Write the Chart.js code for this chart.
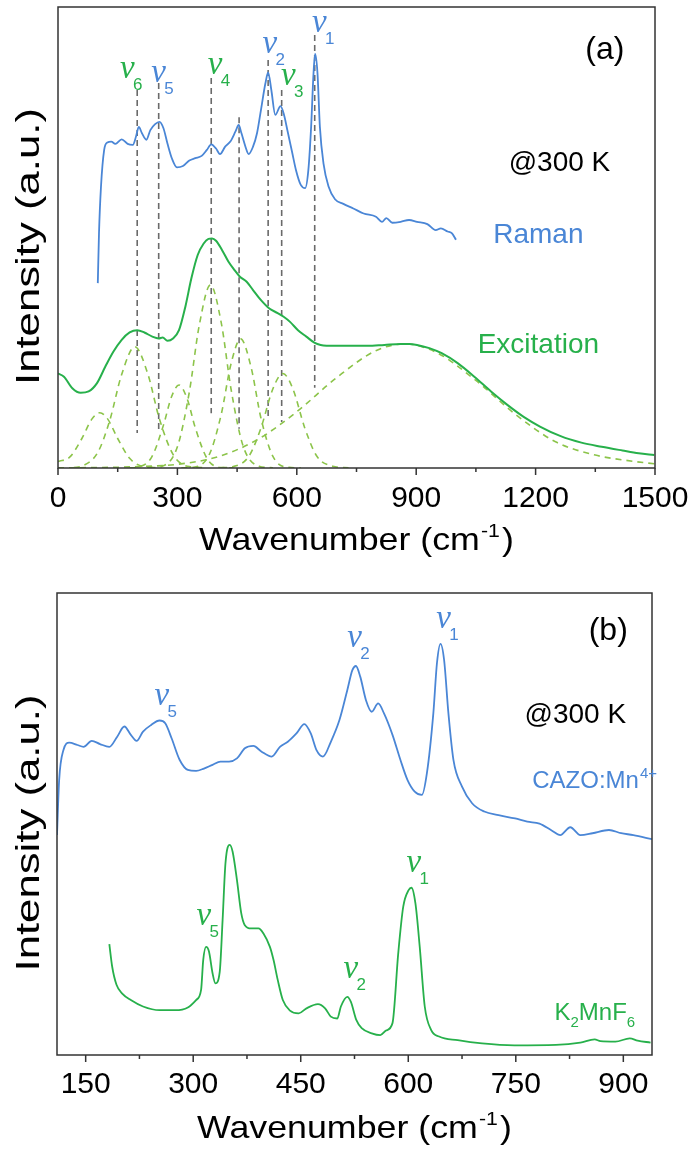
<!DOCTYPE html>
<html><head><meta charset="utf-8">
<script src="https://cdn.jsdelivr.net/npm/chart.js@4.4.0/dist/chart.umd.min.js"></script>
<style>
html,body{margin:0;padding:0;background:#fff;}
#wrap{position:relative;width:693px;height:1158px;overflow:hidden;}
.pane{position:absolute;left:0;width:693px;}
#pa{top:0;height:575px;}
#pb{top:575px;height:583px;}
</style></head><body>
<div id="wrap">
<div class="pane" id="pa"><canvas id="chartA"></canvas></div>
<div class="pane" id="pb"><canvas id="chartB"></canvas></div>
</div>
<script>
// ---------- Panel (a) data ----------
const ramanWn = [100,103,108,116,124,134,144,160,175,188,196,203,211,222,232,244,255,265,275,286,299,314,330,345,361,374,385,397,407,420,433,446,454,461,471,479,490,500,510,521,528,536,546,559,567,577,588,598,610,621,629,636,642,646,652,658,667,680,696,717,742,768,799,814,825,840,861,882,902,928,949,962,979,990,1000];
const ramanInt = [40.1,50.9,61,69,70.6,70.8,70.3,71.3,70.3,70.1,71.9,74,72.6,71.2,73.3,74.6,75.1,73.7,70.4,67.2,65.2,65.5,66.7,67.2,67.7,69,70.2,69.3,68.1,69.7,70.8,73,74.4,72.6,69.7,68.1,69.7,72.6,77.7,83.4,85.8,82,76.6,78.5,76.9,73,68.6,64.6,61.4,60.7,64.6,74,85.6,89.8,85.6,74,66.1,61,58.3,57.3,56.3,55.2,54.5,53.4,54.2,53.2,53.4,53.8,53.4,52.9,51.6,52,51.3,50.9,49.5];

const excWn = [0,15,36,57,77,98,119,139,160,180,199,217,237,253,263,275,289,304,320,335,351,366,378,387,397,412,428,443,457,474,490,510,531,552,567,583,603,624,644,660,696,737,778,820,861,882,902,933,964,1005,1046,1088,1129,1170,1211,1263,1315,1366,1418,1459,1498];
const excInt = [20.5,19.8,17.3,16.3,16.6,18.4,22,25.2,27.8,29.4,29.9,29.4,28.5,28.1,28.3,27.6,28.1,29.9,35,41.1,46.2,48.7,49.7,49.8,49.3,47.3,44.8,43,41.5,40.4,38.6,36.4,34.6,33.6,32.8,31.7,29.9,28.5,27.2,26.7,26.5,26.5,26.5,26.7,26.9,26.9,26.7,26,24.9,22.7,19.8,16.6,13.7,11.1,9,6.9,5.5,4.6,3.8,3.2,2.8];

// fitted components (dashed)
const fit1Wn = [0,30,60,85,105,125,150,180,210,240];
const fit1Int = [1.4,2.4,6.4,10.6,12,10.6,6.4,2.1,0.4,0.1];
const fit2Wn = [40,60,100,130,160,193,225,255,290,330,370];
const fit2Int = [0.1,0.4,3.4,10.3,20.3,26.3,20.6,10.6,2.8,0.3,0.1];
const fit3Wn = [180,200,235,265,285,304,325,345,375,410,440];
const fit3Int = [0.05,0.2,2.3,9.3,15.4,18,14.9,8.7,2,0.1,0.05];
const fit4Wn = [230,260,300,330,355,383,410,435,465,505,540];
const fit4Int = [0.05,0.35,4.6,16.5,31,39.7,31.6,17,4.8,0.4,0.05];
const fit5Wn = [310,340,380,410,435,459,485,510,540,580,610];
const fit5Int = [0.05,0.16,2.9,11.6,22.7,28,21.9,10.8,2.5,0.13,0.05];
const fit6Wn = [410,440,480,510,540,565,590,620,650,690,730];
const fit6Int = [0.05,0.3,2.6,8.7,17.2,20.5,17.2,8.7,2.6,0.4,0.05];
const fit7Wn = [0,100,200,300,400,500,600,700,800,871,950,1050,1150,1250,1350,1450,1500];
const fit7Int = [0.05,0.1,0.3,0.8,2.4,6.1,12.2,19.6,25.5,26.9,25.1,19,11.6,5.7,2.8,1.4,0.9];

// vibrational mode markers (grey dashed verticals)
const modeWn = [199,253,385,455,528,562,645];
const modeTop = [82,83.5,84.6,76.1,88.5,82,93.9];
const modeBottom = [7.6,8.2,11.9,8.5,11.1,10,17.4];

const ticksA = [0,300,600,900,1200,1500];
const minorA = [150,450,750,1050,1350];

// ---------- Panel (b) data ----------
const cazoWn = [110,113,119,127,138.5,147,158.5,170,183,194,204,213,221,230,241,253,261,270,281,292.5,304,315,327,338,350,361,372,384,395,409.5,421,432,444,455,464,472,481,492,504,515,522,527,533,541,549,558,566,578,589,599,609,619,626,635,640,645,650,656,663,675,689,706,726,749,766,783,800,812,826,840,857,880,897,914,940];
const cazoInt = [47.6,59.5,66,67.6,67.1,66.7,68,67.3,66.7,68.9,71.1,69.3,68,70,71.4,72.4,71.8,68.5,63.9,61.7,61.5,62,62.8,63.5,63.5,64.2,66.4,66.9,65.7,64.6,66.7,67.8,69.6,71.6,69.6,66,64.6,67.8,72.5,79,83.3,84.2,81.9,76.8,74.3,76.1,74,69.3,63.9,59.5,57,56.3,61,74,84.8,89,85.5,74,63.9,58.1,54.5,52.7,51.9,51.2,50.5,50.1,48.6,47.6,49.3,47.6,48,48.7,48,47.6,46.7];

const kWn = [183,187,193,201,213,230,253,275,292.5,304,311,314,318,322,327,331,337,341,345,351,355,361,367,372,381,391,398,407,412,418,425,435,447,458,474,484,492,501,506,515,520,527.5,535,549,561,569,578,586,593,600.5,604.5,610,616,623,632,643,669,703,748,806,840,860,868,889,909,920,938];
const kInt = [24,19.1,15.2,13.3,11.9,10.5,9.7,9.7,10.3,11.9,14.1,20.6,23.4,22.4,17.7,15.5,18,29.2,41.5,45.5,44,37.9,30.7,28.1,27.4,27.4,26.3,23.4,20.6,16.2,11.9,9.6,9,10.1,11,10.1,8.3,7.9,10.5,12.6,11.5,7.6,5.8,4.7,4.3,5.3,6.9,22,32.1,35.7,36.2,32.8,23.4,10.5,5.4,4,3.2,2.5,2.1,2.2,2.7,3.4,3,2.9,3.6,3.1,2.7];

const ticksB = [150,300,450,600,750,900];
const minorB = [225,375,525,675,825];

// ---------- styles ----------
const BLUE = '#4a86d6';
const GREEN = '#27b04b';
const LGREEN = '#8cc44a';
const GREY = '#6a6a6a';
const SANS = '"Liberation Sans", Arial, sans-serif';
const SERIF = '"Liberation Serif", "Times New Roman", serif';

const pts = (xs, ys) => xs.map((x, i) => ({x: x, y: ys[i]}));

function lineDs(xs, ys, color, width, dash) {
  return {data: pts(xs, ys), borderColor: color, borderWidth: width, borderDash: dash || [],
    pointRadius: 0, fill: false, cubicInterpolationMode: 'monotone', tension: 0.3};
}

// ---------- decoration plugin ----------
const decor = {
  id: 'decor',
  afterDraw(chart, args, o) {
    const {ctx, chartArea: a, scales: {x, y}} = chart;
    ctx.save();
    // frame
    ctx.strokeStyle = '#333';
    ctx.lineWidth = 1.5;
    ctx.strokeRect(a.left, a.top, a.right - a.left, a.bottom - a.top);
    // ticks
    ctx.beginPath();
    o.major.forEach(v => { const px = x.getPixelForValue(v); ctx.moveTo(px, a.bottom); ctx.lineTo(px, a.bottom + 7); });
    o.minor.forEach(v => { const px = x.getPixelForValue(v); ctx.moveTo(px, a.bottom); ctx.lineTo(px, a.bottom + 4); });
    ctx.stroke();
    // y title (stretched to reference length)
    ctx.fillStyle = '#000';
    ctx.font = '33px ' + SANS;
    ctx.textAlign = 'center';
    ctx.textBaseline = 'middle';
    const yt = 'Intensity (a.u.)';
    const yw = ctx.measureText(yt).width;
    ctx.save();
    ctx.translate(30, (a.top + a.bottom) / 2 + 9);
    ctx.rotate(-Math.PI / 2);
    ctx.scale(o.yTitleLen / yw, 1);
    ctx.fillText(yt, 0, 0);
    ctx.restore();
    // x title with superscript
    ctx.textAlign = 'left';
    ctx.textBaseline = 'alphabetic';
    const f1 = '32px ' + SANS, f2 = '19px ' + SANS;
    ctx.font = f1; const w1 = ctx.measureText('Wavenumber (cm').width; const w3 = ctx.measureText(')').width;
    ctx.font = f2; const w2 = ctx.measureText('-1').width;
    const W = w1 + w2 + w3 + 3;
    ctx.save();
    ctx.translate((a.left + a.right) / 2, a.bottom + o.titleOffset);
    ctx.scale(o.xTitleLen / W, 1);
    const tx = -W / 2;
    ctx.font = f1; ctx.fillText('Wavenumber (cm', tx, 0);
    ctx.font = f2; ctx.fillText('-1', tx + w1 + 1, -13);
    ctx.font = f1; ctx.fillText(')', tx + w1 + w2 + 3, 0);
    ctx.restore();
    // nu labels
    o.nus.forEach(n => {
      const px = x.getPixelForValue(n.x), py = y.getPixelForValue(n.y);
      ctx.fillStyle = n.c;
      ctx.font = 'italic 33px ' + SERIF;
      ctx.fillText('\u03bd', px, py);
      ctx.font = '17px ' + SANS;
      ctx.fillText(n.s, px + 13, py + 12);
    });
    // plain texts
    o.texts.forEach(t => {
      const px = x.getPixelForValue(t.x), py = y.getPixelForValue(t.y);
      ctx.fillStyle = t.c;
      let cx = px;
      if (t.parts) {
        ctx.textAlign = 'left';
        ctx.textBaseline = 'alphabetic';
        t.parts.forEach(p => {
          ctx.font = p[1] + 'px ' + SANS;
          ctx.fillText(p[0], cx, py + p[2]);
          cx += ctx.measureText(p[0]).width + (p[3] || 0);
        });
      } else {
        ctx.font = t.f + 'px ' + SANS;
        ctx.textAlign = 'center';
        ctx.textBaseline = 'middle';
        ctx.fillText(t.t, px, py);
      }
    });
    ctx.restore();
  }
};

function xScale(min, max, major, height, pad) {
  return {
    type: 'linear', min: min, max: max,
    afterBuildTicks: s => { s.ticks = major.map(v => ({value: v})); },
    afterFit: s => { s.height = height; s.paddingLeft = 0; s.paddingRight = 0; },
    grid: {display: false, drawTicks: false},
    border: {display: false},
    ticks: {font: {family: 'Liberation Sans', size: 30}, color: '#000', padding: pad, maxRotation: 0,
      autoSkip: false, callback: v => String(v)}
  };
}

const commonOpts = {
  responsive: true, maintainAspectRatio: false, animation: false, events: [],
  plugins: {legend: {display: false}, tooltip: {enabled: false}}
};

// ---------- chart (a) ----------
const dsA = [
  lineDs(ramanWn, ramanInt, BLUE, 1.8),
  lineDs(excWn, excInt, GREEN, 2),
];
[[fit1Wn, fit1Int], [fit2Wn, fit2Int], [fit3Wn, fit3Int], [fit4Wn, fit4Int], [fit5Wn, fit5Int], [fit6Wn, fit6Int], [fit7Wn, fit7Int]]
  .forEach(f => dsA.push(lineDs(f[0], f[1], LGREEN, 1.6, [6, 5])));
modeWn.forEach((w, i) => dsA.push({data: [{x: w, y: modeTop[i]}, {x: w, y: modeBottom[i]}], borderColor: GREY,
  borderWidth: 1.6, borderDash: [6, 4], pointRadius: 0, fill: false}));

new Chart(document.getElementById('chartA'), {
  type: 'line',
  data: {datasets: dsA},
  options: Object.assign({}, commonOpts, {
    layout: {padding: {left: 58, right: 38, top: 7, bottom: 0}},
    scales: {x: xScale(0, 1500, ticksA, 107, 13), y: {display: false, min: 0, max: 100}},
    plugins: Object.assign({}, commonOpts.plugins, {decor: {
      major: ticksA, minor: minorA, titleOffset: 82, xTitleLen: 315, yTitleLen: 277,
      nus: [
        {x: 156, y: 84.6, s: '6', c: GREEN},
        {x: 234, y: 83.7, s: '5', c: BLUE},
        {x: 376, y: 85.5, s: '4', c: GREEN},
        {x: 514, y: 90.0, s: '2', c: BLUE},
        {x: 560, y: 83.1, s: '3', c: GREEN},
        {x: 638, y: 94.6, s: '1', c: BLUE}
      ],
      texts: [
        {t: '(a)', x: 1374, y: 90.7, f: 32, c: '#000'},
        {t: '@300 K', x: 1260, y: 66.2, f: 28, c: '#000'},
        {t: 'Raman', x: 1207, y: 50.5, f: 28, c: BLUE},
        {t: 'Excitation', x: 1207, y: 26.7, f: 28, c: GREEN}
      ]
    }})
  }),
  plugins: [decor]
});

// ---------- chart (b) ----------
new Chart(document.getElementById('chartB'), {
  type: 'line',
  data: {datasets: [
    lineDs(cazoWn, cazoInt, BLUE, 1.8),
    lineDs(kWn, kInt, GREEN, 1.8)
  ]},
  options: Object.assign({}, commonOpts, {
    layout: {padding: {left: 57, right: 41, top: 18, bottom: 0}},
    scales: {x: xScale(110, 940, ticksB, 103, 12), y: {display: false, min: 0, max: 100}},
    plugins: Object.assign({}, commonOpts.plugins, {decor: {
      major: ticksB, minor: minorB, titleOffset: 83, xTitleLen: 315, yTitleLen: 277,
      nus: [
        {x: 246, y: 75.8, s: '5', c: BLUE},
        {x: 515, y: 88.3, s: '2', c: BLUE},
        {x: 639, y: 92.4, s: '1', c: BLUE},
        {x: 304.5, y: 28.1, s: '5', c: GREEN},
        {x: 509.6, y: 16.7, s: '2', c: GREEN},
        {x: 597.5, y: 39.6, s: '1', c: GREEN}
      ],
      texts: [
        {t: '(b)', x: 879, y: 91.8, f: 32, c: '#000'},
        {t: '@300 K', x: 833, y: 73.6, f: 28, c: '#000'},
        {x: 773, y: 57.8, c: BLUE, parts: [['CAZO:Mn', 24, 0, 1], ['4+', 15, -10]]},
        {x: 804, y: 7.6, c: GREEN, parts: [['K', 24, 0], ['2', 15, 7], ['MnF', 24, 0], ['6', 15, 7]]}
      ]
    }})
  }),
  plugins: [decor]
});
</script>
</body></html>
